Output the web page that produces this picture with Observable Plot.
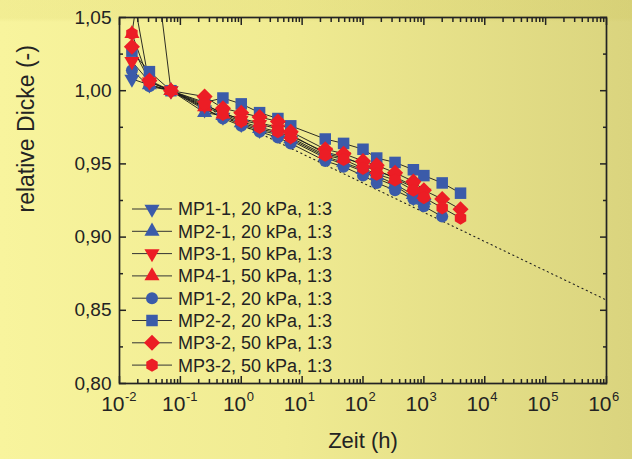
<!DOCTYPE html>
<html><head><meta charset="utf-8">
<script src="https://cdn.jsdelivr.net/npm/d3@7"></script>
<script src="https://cdn.jsdelivr.net/npm/@observablehq/plot@0.6"></script>
<style>
html,body{margin:0;padding:0;}
body{width:632px;height:459px;overflow:hidden;
background:linear-gradient(180deg,rgba(190,180,60,0.10) 0px,rgba(190,180,60,0.10) 18px,rgba(0,0,0,0) 22px),linear-gradient(90deg,#f8f49d 0%,#f0eb92 45%,#dad47e 100%);}
#chart svg{display:block;}
</style></head><body><div id="chart"></div>
<script>
// ---- data ----
const times1 = [0.016, 0.031, 0.07, 0.25, 0.5, 1, 2, 4, 6.5, 24, 48, 100, 168, 336, 672, 1000];
const times2 = [0.016, 0.031, 0.07, 0.25, 0.5, 1, 2, 4, 6.5, 24, 48, 100, 168, 336, 672, 1000, 2000, 4000];
const timesCircle = [0.016, 0.031, 0.07, 0.25, 0.5, 1, 2, 4, 6.5, 24, 48, 100, 168, 336, 672, 1000, 2000];

const valMP11 = [1.008, 1.004, 1.000, 0.987, 0.982, 0.977, 0.973, 0.970, 0.966, 0.954, 0.950, 0.945, 0.940, 0.935, 0.927, 0.923];
const valMP21 = [1.070, 1.004, 1.000, 0.985, 0.983, 0.978, 0.974, 0.971, 0.967, 0.955, 0.951, 0.946, 0.942, 0.936, 0.929, 0.925];
const valMP31 = [1.020, 1.006, 1.000, 0.990, 0.985, 0.980, 0.977, 0.974, 0.969, 0.958, 0.955, 0.949, 0.945, 0.941, 0.935, 0.930];
const valMP41 = [1.039, 1.120, 1.000, 0.989, 0.984, 0.981, 0.978, 0.975, 0.970, 0.957, 0.954, 0.950, 0.946, 0.940, 0.934, 0.929];
const valMP12 = [1.014, 1.003, 1.000, 0.988, 0.981, 0.976, 0.972, 0.968, 0.964, 0.952, 0.948, 0.942, 0.937, 0.932, 0.926, 0.921, 0.914];
const valMP22 = [1.027, 1.013, 1.000, 0.992, 0.995, 0.991, 0.985, 0.981, 0.976, 0.967, 0.964, 0.960, 0.954, 0.951, 0.946, 0.942, 0.937, 0.930];
const valMP32a = [1.030, 1.007, 1.000, 0.996, 0.988, 0.985, 0.982, 0.979, 0.972, 0.960, 0.957, 0.952, 0.949, 0.944, 0.938, 0.932, 0.926, 0.919];
const valMP32b = [1.039, 1.006, 1.000, 0.991, 0.984, 0.979, 0.975, 0.972, 0.968, 0.956, 0.953, 0.947, 0.943, 0.939, 0.932, 0.927, 0.920, 0.913];

const fitT = [0.07, 1e6];
const fitV = [1.000, 0.857];

const yMajor = [0.80, 0.85, 0.90, 0.95, 1.00, 1.05];
const yMinor = [0.825, 0.875, 0.925, 0.975, 1.025];
const xDecades = [-2, -1, 0, 1, 2, 3, 4, 5, 6];
const xMinorMult = [2, 3, 4, 5, 6, 7, 8, 9];

const legendNames = ["MP1-1, 20 kPa, 1:3", "MP2-1, 20 kPa, 1:3", "MP3-1, 50 kPa, 1:3", "MP4-1, 50 kPa, 1:3",
                     "MP1-2, 20 kPa, 1:3", "MP2-2, 20 kPa, 1:3", "MP3-2, 50 kPa, 1:3", "MP3-2, 50 kPa, 1:3"];

// ---- symbols ----
const SQ3 = Math.sqrt(3);
const triUp = {draw(c, s){const y = -Math.sqrt(s/(SQ3*3)); c.moveTo(0, y*2); c.lineTo(-SQ3*y, -y); c.lineTo(SQ3*y, -y); c.closePath();}};
const triDown = {draw(c, s){const y = -Math.sqrt(s/(SQ3*3)); c.moveTo(0, -y*2); c.lineTo(-SQ3*y, y); c.lineTo(SQ3*y, y); c.closePath();}};
const square = {draw(c, s){const h = Math.sqrt(s)/2; c.moveTo(-h,-h); c.lineTo(h,-h); c.lineTo(h,h); c.lineTo(-h,h); c.closePath();}};
const circle = {draw(c, s){const r = Math.sqrt(s/Math.PI); c.moveTo(r,0); c.arc(0,0,r,0,2*Math.PI);}};
const diamond = {draw(c, s){const h = Math.sqrt(s/2); c.moveTo(0,-h); c.lineTo(h,0); c.lineTo(0,h); c.lineTo(-h,0); c.closePath();}};
const hexagon = {draw(c, s){const R = Math.sqrt(s/(1.5*SQ3)); for(let k=0;k<6;k++){const a = Math.PI/2 + k*Math.PI/3; const px = R*Math.cos(a), py = R*Math.sin(a); if(k) c.lineTo(px,py); else c.moveTo(px,py);} c.closePath();}};

const BLUE = "#3b5ba9", RED = "#ec1d25";

const series = [
  {key:"MP1-1", name:legendNames[0], t:times1, v:valMP11, sym:triDown, color:BLUE, r:5.6},
  {key:"MP2-1", name:legendNames[1], t:times1, v:valMP21, sym:triUp, color:BLUE, r:5.6},
  {key:"MP3-1", name:legendNames[2], t:times1, v:valMP31, sym:triDown, color:RED, r:5.6},
  {key:"MP4-1", name:legendNames[3], t:times1, v:valMP41, sym:triUp, color:RED, r:5.6},
  {key:"MP1-2", name:legendNames[4], t:timesCircle, v:valMP12, sym:circle, color:BLUE, r:6},
  {key:"MP2-2", name:legendNames[5], t:times2, v:valMP22, sym:square, color:BLUE, r:6.5},
  {key:"MP3-2a", name:legendNames[6], t:times2, v:valMP32a, sym:diamond, color:RED, r:6.4},
  {key:"MP3-2b", name:legendNames[7], t:times2, v:valMP32b, sym:hexagon, color:RED, r:6}
];
const drawOrder = [0, 1, 4, 5, 2, 3, 6, 7];

const rows = series.flatMap(s => s.t.map((t, i) => ({key: s.key, t, v: s.v[i]})));
const fitRows = fitT.map((t, i) => ({t, v: fitV[i]}));
const xMinor = xDecades.slice(0, -1).flatMap(d => xMinorMult.map(m => m * 10 ** d));
const xMajor = xDecades.map(d => 10 ** d);

const INK = "#232323";
const ML = 119, MR = 26, MT = 17, MB = 76, W = 632, H = 459;
const tickOpts = {text: null, strokeWidth: 1.5, stroke: INK, label: null};

const plot = Plot.plot({
  width: W, height: H,
  marginLeft: ML, marginRight: MR, marginTop: MT, marginBottom: MB,
  style: {background: "transparent", fontFamily: "'Liberation Sans', Arial, sans-serif", color: INK},
  x: {type: "log", domain: [0.01, 1e6]},
  y: {domain: [0.80, 1.05]},
  marks: [
    Plot.line(fitRows, {x: "t", y: "v", stroke: INK, strokeWidth: 1.1, strokeDasharray: "1.2,3.6", clip: true}),
    Plot.line(rows, {x: "t", y: "v", z: "key", stroke: "#161616", strokeWidth: 0.9, clip: true}),
    ...drawOrder.map(i => {
      const s = series[i];
      return Plot.dot(rows.filter(d => d.key === s.key), {x: "t", y: "v", symbol: s.sym, fill: s.color, r: s.r, clip: true});
    }),
    // axes ticks (inward)
    Plot.axisY({anchor: "left", ticks: yMajor, tickSize: -7, ...tickOpts}),
    Plot.axisY({anchor: "left", ticks: yMinor, tickSize: -4, ...tickOpts}),
    Plot.axisY({anchor: "right", ticks: yMajor, tickSize: -7, ...tickOpts}),
    Plot.axisY({anchor: "right", ticks: yMinor, tickSize: -4, ...tickOpts}),
    Plot.axisY({anchor: "left", ticks: yMajor, tickSize: 0, tickPadding: 8, fontSize: 19, label: null,
                tickFormat: d => d.toFixed(2).replace(".", ",")}),
    Plot.axisX({anchor: "bottom", ticks: xMajor, tickSize: -7, ...tickOpts}),
    Plot.axisX({anchor: "bottom", ticks: xMinor, tickSize: -4, ...tickOpts}),
    Plot.axisX({anchor: "top", ticks: xMajor, tickSize: -7, ...tickOpts}),
    Plot.axisX({anchor: "top", ticks: xMinor, tickSize: -4, ...tickOpts}),
    // x tick labels 10^k
    Plot.text(xDecades, {x: d => 10 ** d, frameAnchor: "bottom", text: () => "10", textAnchor: "end", dx: 5, dy: 21, lineAnchor: "middle", fontSize: 21, fill: INK}),
    Plot.text(xDecades, {x: d => 10 ** d, frameAnchor: "bottom", text: d => String(d), textAnchor: "start", dx: 5.5, dy: 13, lineAnchor: "middle", fontSize: 13, fill: INK}),
    // axis titles
    Plot.text(["Zeit (h)"], {frameAnchor: "bottom", dy: 57, lineAnchor: "middle", fontSize: 22, fill: INK}),
    Plot.text(["relative Dicke (-)"], {frameAnchor: "left", dx: -93, dy: 12, rotate: -90, lineAnchor: "middle", fontSize: 23, fill: INK}),
    Plot.frame({stroke: INK, strokeWidth: 1.7})
  ]
});

// legend inside the plot area
const svg = d3.select(plot);
const lg = svg.append("g").attr("font-family", "'Liberation Sans', Arial, sans-serif").attr("text-anchor", "start");
series.forEach((s, i) => {
  const y = MT + 192 + 22.3 * i;
  lg.append("line").attr("x1", ML + 13).attr("x2", ML + 53).attr("y1", y).attr("y2", y)
    .attr("stroke", "#333").attr("stroke-width", 1);
  lg.append("path").attr("transform", `translate(${ML + 33},${y})`)
    .attr("d", d3.symbol().type(s.sym).size(Math.PI * s.r * s.r)()).attr("fill", s.color);
  lg.append("text").attr("x", ML + 59).attr("y", y).attr("dy", "0.36em").attr("text-anchor", "start")
    .attr("font-size", 18).attr("fill", INK).text(s.name);
});

document.getElementById("chart").appendChild(plot);
</script>
</body></html>
